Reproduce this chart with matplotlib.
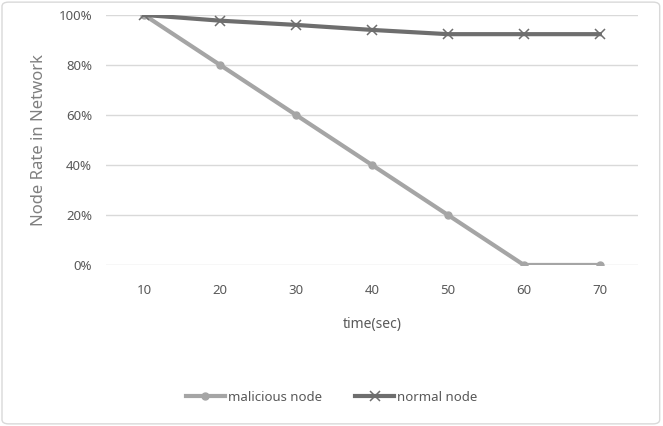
import matplotlib
matplotlib.use("Agg")
import matplotlib.pyplot as plt
from matplotlib.patches import FancyBboxPatch

time_labels = ['10', '20', '30', '40', '50', '60', '70']
malicious = [1.00, 0.80, 0.60, 0.40, 0.20, 0.00, 0.00]
normal = [1.00, 0.977, 0.96, 0.94, 0.923, 0.923, 0.923]
yticks = [0, 0.2, 0.4, 0.6, 0.8, 1.0]

plt.rcParams['font.family'] = ['Noto Sans', 'DejaVu Sans']

fig = plt.figure(figsize=(6.63, 4.26), dpi=100)
ax = fig.add_axes([0.16, 0.378, 0.802, 0.587])

x = list(range(len(time_labels)))
ax.plot(x, malicious, color='#a5a5a5', lw=3, marker='o', ms=5, label='malicious node', zorder=3)
ax.plot(x, normal, color='#6e6e6e', lw=3, marker='x', ms=7, mew=1.1, label='normal node', zorder=4)

ax.set_xlim(-0.5, 6.5)
ax.set_ylim(0, 1)
ax.set_yticks(yticks)
ax.set_yticklabels([f"{int(round(v * 100))}%" for v in yticks])
ax.set_xticks(x)
ax.set_xticklabels(time_labels)
ax.tick_params(length=0, labelsize=9.5, colors='#595959', pad=10)
ax.tick_params(axis='x', pad=14)
ax.grid(axis='y', color='#d9d9d9', lw=1)
ax.set_axisbelow(True)
for s in ax.spines.values():
    s.set_visible(False)

ax.set_ylabel('Node Rate in Network', fontsize=12, color='#7f7f7f', labelpad=8)
ax.set_xlabel('time(sec)', fontsize=10, color='#595959', labelpad=14)

fig.legend(loc='center', bbox_to_anchor=(0.5, 0.068), ncol=2, frameon=False,
           fontsize=9.5, labelcolor='#595959', handlelength=3, columnspacing=2.5,
           handletextpad=0.2)

border = FancyBboxPatch((0.003, 0.005), 0.992, 0.99, boxstyle='round,pad=0,rounding_size=0.01',
                        transform=fig.transFigure, fill=False, ec='#d9d9d9', lw=1)
fig.patches.append(border)

fig.savefig('out.png', dpi=100)
